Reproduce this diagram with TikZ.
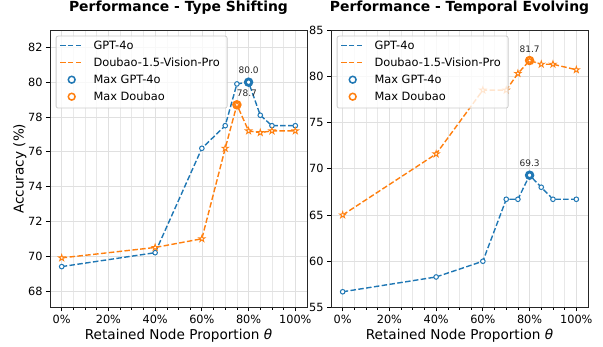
\documentclass[tikz,border=0pt]{standalone}
\usepackage{fontspec}
\setmainfont{DejaVu Sans}[ItalicFont={DejaVu Sans Oblique},BoldFont={DejaVu Sans Bold}]
\usepackage{pgfplots}
\pgfplotsset{compat=1.18}
\usetikzlibrary{plotmarks}
\pgfplotsset{every axis/.style={scale only axis}}

\definecolor{gptblue}{HTML}{1F77B4}
\definecolor{doubaoorange}{HTML}{FF7F0E}

\pgfdeclareplotmark{pentastar}{%
  \pgfpathmoveto{\pgfpointpolar{90}{\pgfplotmarksize}}%
  \pgfpathlineto{\pgfpointpolar{126}{0.38\pgfplotmarksize}}%
  \pgfpathlineto{\pgfpointpolar{162}{\pgfplotmarksize}}%
  \pgfpathlineto{\pgfpointpolar{198}{0.38\pgfplotmarksize}}%
  \pgfpathlineto{\pgfpointpolar{234}{\pgfplotmarksize}}%
  \pgfpathlineto{\pgfpointpolar{270}{0.38\pgfplotmarksize}}%
  \pgfpathlineto{\pgfpointpolar{306}{\pgfplotmarksize}}%
  \pgfpathlineto{\pgfpointpolar{342}{0.38\pgfplotmarksize}}%
  \pgfpathlineto{\pgfpointpolar{18}{\pgfplotmarksize}}%
  \pgfpathlineto{\pgfpointpolar{54}{0.38\pgfplotmarksize}}%
  \pgfpathclose
  \pgfusepathqfillstroke}

\pgfplotsset{
  perfaxis/.style={
    width=257pt, height=277.5pt, anchor=south west,
    xmin=-5, xmax=105,
    xtick={0,20,...,100},
    xticklabels={0\%,20\%,40\%,60\%,80\%,100\%},
    minor xtick={5,10,15,25,30,35,45,50,55,65,70,75,85,90,95},
    xtick pos=bottom, ytick pos=left,
    tick align=outside,
    major tick length=4pt, minor tick length=2.3pt,
    tick style={black, line width=0.8pt},
    minor tick style={line width=0.6pt},
    xmajorgrids, ymajorgrids, xminorgrids,
    major grid style={black!12, line width=0.6pt},
    minor grid style={black!9, line width=0.6pt},
    axis line style={black!85, line width=0.8pt},
    tick label style={font=\fontsize{11.3}{13}\selectfont},
    xlabel={Retained Node Proportion {\itshape θ}},
    xlabel style={font=\fontsize{13.6}{16}\selectfont,
      at={(axis description cs:0.5,0)}, anchor=base, yshift=-31.8pt},
    ylabel style={font=\fontsize{13.6}{16}\selectfont,
      at={(axis description cs:-0.1031,0.5)}, anchor=base},
    title style={font=\bfseries\fontsize{13.9}{16}\selectfont,
      at={(axis description cs:0.5,1)}, anchor=base, yshift=12.7pt},
  },
}

\begin{document}
\begin{tikzpicture}[
gptdash/.style={gptblue, line width=1.4pt, dash pattern=on 5.5pt off 2.4pt},
doubaodash/.style={doubaoorange, line width=1.4pt, dash pattern=on 5.5pt off 2.4pt},
gptmark/.style={mark=*, mark size=2.3pt, mark options={solid, fill=white, line width=1pt}},
doubaomark/.style={mark=pentastar, mark size=3.3pt, mark options={solid, fill=white, line width=0.9pt}},
peakring/.style={only marks, mark=o, mark size=3.6pt, mark options={line width=2.2pt}},
peaklabel/.style={font=\fontsize{9}{10.8}\selectfont, text=black!85, inner sep=0pt},
legendbox/.style={draw=black!20, line width=0.8pt, fill=white, fill opacity=0.8,
  rounded corners=2pt, minimum width=171pt, minimum height=72pt, inner sep=0pt, anchor=north west},
legendring/.style={circle, draw, line width=1.5pt, minimum size=6.8pt, inner sep=0pt},
legendtext/.style={anchor=base west, yshift=-4.1pt, inner sep=0pt, text=black,
  font=\fontsize{11.4}{13}\selectfont}]
\useasboundingbox (0,0) rectangle (603pt,347pt);

% left: type shifting
\begin{axis}[perfaxis, name=typeax, at={(50pt,39.5pt)},
  ymin=67.05, ymax=83,
  ytick={68,70,...,82},
  yticklabels={68,70,72,74,76,78,80,82},
  title={Performance - Type Shifting},
  ylabel={Accuracy (\%)}]
\addplot[gptdash, gptmark] coordinates {(0,69.4) (40,70.2) (60,76.2) (70,77.5) (75,79.9)
  (80,80.0) (85,78.1) (90,77.5) (100,77.5)};
\addplot[doubaodash, doubaomark] coordinates {(0,69.9) (40,70.5) (60,71.0) (70,76.2) (75,78.7)
  (80,77.2) (85,77.1) (90,77.2) (100,77.2)};
\addplot[peakring, gptblue] coordinates {(80,80.0)};
\addplot[peakring, doubaoorange] coordinates {(75,78.7)};
\node[peaklabel, yshift=11.7pt] (typegptpeak) at (axis cs:80,80.0) {80.0};
\node[peaklabel, xshift=10pt, yshift=11.7pt] (typedoubaopeak) at (axis cs:75,78.7) {78.7};
\end{axis}

% right: temporal evolving
\begin{axis}[perfaxis, name=temporalax, at={(331pt,39.5pt)},
  ymin=55, ymax=85,
  ytick={55,60,...,85},
  yticklabels={55,60,65,70,75,80,85},
  title={Performance - Temporal Evolving}]
\addplot[gptdash, gptmark] coordinates {(0,56.7) (40,58.3) (60,60.0) (70,66.7) (75,66.7)
  (80,69.3) (85,68.0) (90,66.7) (100,66.7)};
\addplot[doubaodash, doubaomark] coordinates {(0,65.0) (40,71.6) (60,78.5) (70,78.5) (75,80.3)
  (80,81.7) (85,81.3) (90,81.3) (100,80.7)};
\addplot[peakring, gptblue] coordinates {(80,69.3)};
\addplot[peakring, doubaoorange] coordinates {(80,81.7)};
\node[peaklabel, yshift=11.7pt] (temporalgptpeak) at (axis cs:80,69.3) {69.3};
\node[peaklabel, yshift=11.7pt] (temporaldoubaopeak) at (axis cs:80,81.7) {81.7};
\end{axis}

% legends, same in both panels
\foreach \ax in {typeax,temporalax} {
  \node[legendbox] (\ax legend) at ([shift={(5.7pt,-5.7pt)}]\ax.north west) {};
  \draw[gptdash] ([shift={(4.3pt,-10pt)}]\ax legend.north west) coordinate (\ax gptkey) -- +(23.3pt,0);
  \node[legendtext] (\ax gpttext) at ([xshift=33.3pt]\ax gptkey) {GPT-4o};
  \draw[doubaodash] ([shift={(4.3pt,-27pt)}]\ax legend.north west) coordinate (\ax doubaokey) -- +(23.3pt,0);
  \node[legendtext] (\ax doubaotext) at ([xshift=33.3pt]\ax doubaokey) {Doubao-1.5-Vision-Pro};
  \node[legendring, gptblue] (\ax gptring) at ([shift={(16pt,-44pt)}]\ax legend.north west) {};
  \node[legendtext] (\ax maxgpttext) at ([xshift=21.6pt]\ax gptring.center) {Max GPT-4o};
  \node[legendring, doubaoorange] (\ax doubaoring) at ([shift={(16pt,-61pt)}]\ax legend.north west) {};
  \node[legendtext] (\ax maxdoubaotext) at ([xshift=21.6pt]\ax doubaoring.center) {Max Doubao};
}
\end{tikzpicture}
\end{document}
